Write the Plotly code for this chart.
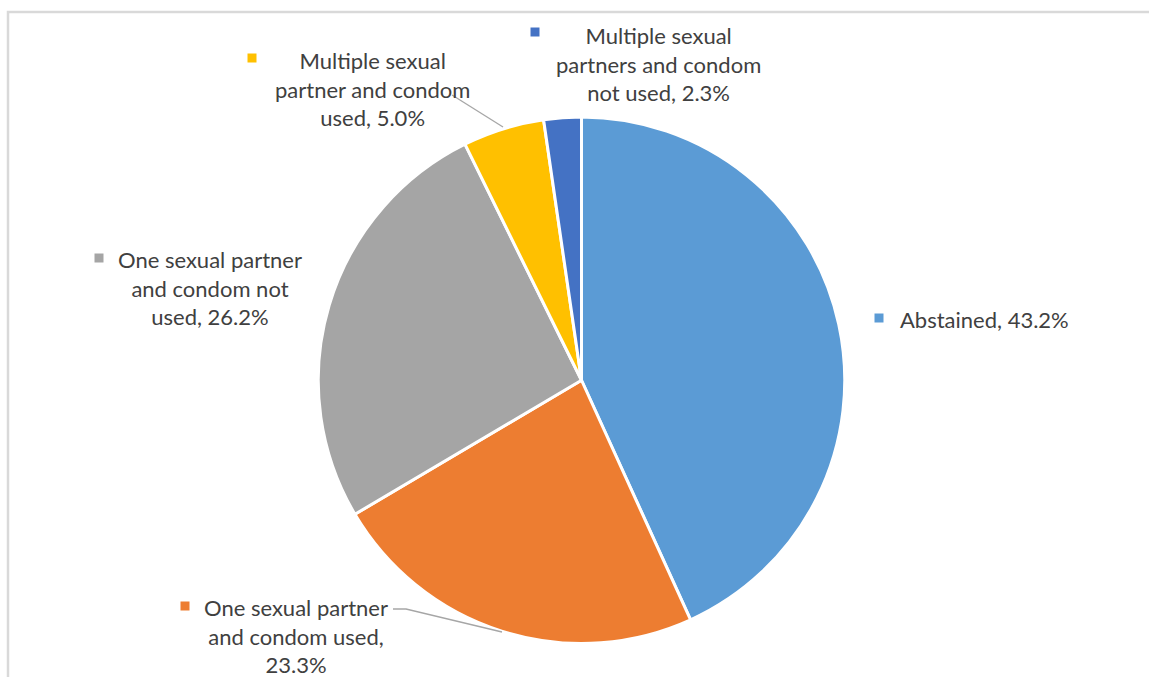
import plotly.graph_objects as go

W, H = 1149, 677

categories = [
    "Abstained",
    "One sexual partner and condom used",
    "One sexual partner and condom not used",
    "Multiple sexual partner and condom used",
    "Multiple sexual partners and condom not used",
]
values = [43.2, 23.3, 26.2, 5.0, 2.3]
colors = ["#5B9BD5", "#ED7D31", "#A5A5A5", "#FFC000", "#4472C4"]
label_texts = [
    "Abstained, 43.2%",
    "One sexual partner<br>and condom used,<br>23.3%",
    "One sexual partner<br>and condom not<br>used, 26.2%",
    "Multiple sexual<br>partner and condom<br>used, 5.0%",
    "Multiple sexual<br>partners and condom<br>not used, 2.3%",
]

def px(x):
    return x / W

def py(y):
    return 1 - y / H

fig = go.Figure()
fig.add_trace(go.Pie(
    labels=categories,
    values=values,
    sort=False,
    direction="clockwise",
    rotation=0,
    marker=dict(colors=colors, line=dict(color="white", width=3)),
    textinfo="none",
    hoverinfo="label+percent",
    showlegend=False,
    domain=dict(x=[px(318), px(845)], y=[py(643.5), py(117)]),
))

# label layout (pixel positions)
label_pos = [(898, 319, "left"), (296, 636, "center"), (210, 288, "center"),
             (372, 89, "center"), (658, 64, "center")]
square_pos = [(879, 318), (185, 606), (99, 258), (252, 58), (535, 32)]

font = dict(family="Lato", size=22, color="#404040")
for txt, (x, y, anc), (sx, sy), c in zip(label_texts, label_pos, square_pos, colors):
    fig.add_annotation(x=px(x), y=py(y), xref="paper", yref="paper", text=txt,
                       showarrow=False, xanchor=anc, yanchor="middle", align="center",
                       font=font)
    fig.add_shape(type="rect", xref="paper", yref="paper",
                  x0=px(sx - 4.5), x1=px(sx + 4.5), y0=py(sy + 4.5), y1=py(sy - 4.5),
                  fillcolor=c, line=dict(width=0))

# leader lines
fig.add_shape(type="path", xref="paper", yref="paper",
              path=f"M {px(452)} {py(95)} L {px(503)} {py(127)}",
              line=dict(color="#A6A6A6", width=1.3))
fig.add_shape(type="path", xref="paper", yref="paper",
              path=f"M {px(393)} {py(609)} L {px(406)} {py(609)} L {px(502)} {py(632)}",
              line=dict(color="#A6A6A6", width=1.3))

# chart border
fig.add_shape(type="rect", xref="paper", yref="paper",
              x0=px(8), x1=px(1160), y0=py(690), y1=py(12),
              line=dict(color="#D9D9D9", width=2.5), fillcolor="rgba(0,0,0,0)")

fig.update_layout(
    width=W, height=H,
    margin=dict(l=0, r=0, t=0, b=0),
    paper_bgcolor="white",
    plot_bgcolor="white",
)

fig.write_html("out.html")
